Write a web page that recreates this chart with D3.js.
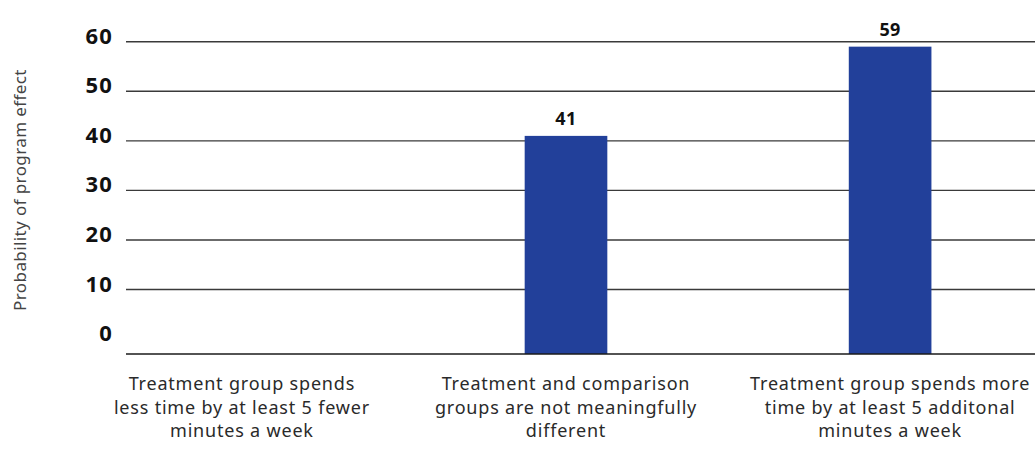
<!DOCTYPE html>
<html>
<head>
<meta charset="utf-8">
<script src="https://cdn.jsdelivr.net/npm/d3@7"></script>
<style>
  html, body { margin: 0; padding: 0; background: #fff; }
  svg { display: block; }
</style>
</head>
<body>
<svg id="chart" width="1035" height="449"></svg>
<script>
// Outcome categories, each wrapped onto the lines shown under the axis
const categories = [
  ["Treatment group spends", "less time by at least 5 fewer", "minutes a week"],
  ["Treatment and comparison", "groups are not meaningfully", "different"],
  ["Treatment group spends more", "time by at least 5 additonal", "minutes a week"]
];
const categoryKeys = ["less", "same", "more"];
// Probability (%) of each program effect; the first outcome has no bar
const values = [null, 41, 59];
const yTicks = [0, 10, 20, 30, 40, 50, 60];
const yTitle = "Probability of program effect";

const width = 1035, height = 449;
const svg = d3.select("#chart");
const font = "'Noto Sans', sans-serif";

const plotLeft = 126, plotRight = 1035;
const baselineY = 354;

const x = d3.scaleBand()
  .domain(categoryKeys)
  .range([80, 1052])
  .paddingInner(0.745)
  .paddingOuter(0.372);

const y = d3.scaleLinear()
  .domain([-3, 60])
  .range([baselineY, 41.7]);

// Horizontal gridlines for 10..60
svg.append("g")
  .selectAll("line")
  .data(yTicks.filter(d => d > 0))
  .join("line")
  .attr("x1", plotLeft)
  .attr("x2", plotRight)
  .attr("y1", d => y(d))
  .attr("y2", d => y(d))
  .attr("stroke", "#3a3a3a")
  .attr("stroke-width", 1.4);

// Tick labels sit just above their gridline
svg.append("g")
  .selectAll("text")
  .data(yTicks)
  .join("text")
  .attr("x", 113)
  .attr("y", d => y(d) + 2)
  .attr("text-anchor", "end")
  .attr("font-family", font)
  .attr("font-weight", 700)
  .attr("font-size", 22)
  .attr("letter-spacing", 1.2)
  .attr("fill", "#111")
  .text(d => d);

// Bars
const barData = categoryKeys.map((k, i) => ({ key: k, value: values[i] }))
  .filter(d => d.value != null);

svg.append("g")
  .selectAll("rect")
  .data(barData)
  .join("rect")
  .attr("x", d => x(d.key))
  .attr("width", x.bandwidth())
  .attr("y", d => y(d.value))
  .attr("height", d => baselineY - y(d.value))
  .attr("fill", "#22409a");

// Value labels
svg.append("g")
  .selectAll("text")
  .data(barData)
  .join("text")
  .attr("x", d => x(d.key) + x.bandwidth() / 2)
  .attr("y", d => y(d.value) - 11)
  .attr("text-anchor", "middle")
  .attr("font-family", font)
  .attr("font-weight", 700)
  .attr("font-size", 18)
  .attr("letter-spacing", 0.4)
  .attr("fill", "#111")
  .text(d => d.value);

// Category axis line
svg.append("line")
  .attr("x1", plotLeft)
  .attr("x2", plotRight)
  .attr("y1", baselineY)
  .attr("y2", baselineY)
  .attr("stroke", "#1a1a1a")
  .attr("stroke-width", 1.5);

// Category labels
const catG = svg.append("g")
  .selectAll("text")
  .data(categoryKeys.map((k, i) => ({ key: k, lines: categories[i] })))
  .join("text")
  .attr("text-anchor", "middle")
  .attr("font-family", font)
  .attr("font-size", 18)
  .attr("letter-spacing", 0.8)
  .attr("fill", "#2a2a2a");

catG.selectAll("tspan")
  .data(d => d.lines.map(l => ({ key: d.key, line: l })))
  .join("tspan")
  .attr("x", d => x(d.key) + x.bandwidth() / 2)
  .attr("y", (d, i) => 390 + i * 23.5)
  .text(d => d.line);

// Y-axis title
svg.append("text")
  .attr("transform", `translate(26, ${190}) rotate(-90)`)
  .attr("text-anchor", "middle")
  .attr("font-family", font)
  .attr("font-size", 17)
  .attr("letter-spacing", 0.4)
  .attr("fill", "#444")
  .text(yTitle);
</script>
</body>
</html>
